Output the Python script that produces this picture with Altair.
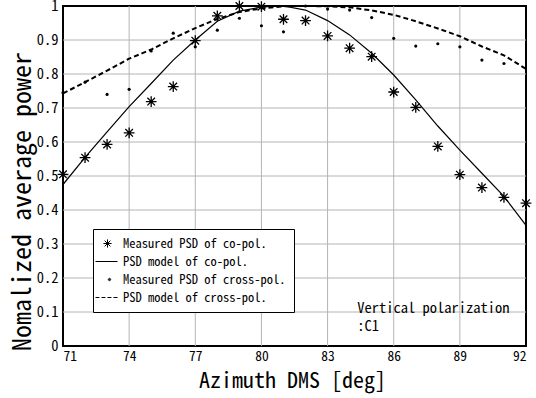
import altair as alt
import pandas as pd

# ---- data ----
azimuth = list(range(71, 93))
co_measured = [0.505, 0.554, 0.593, 0.627, 0.719, 0.763, 0.898, 0.971, 1.0, 0.998,
               0.961, 0.957, 0.912, 0.876, 0.851, 0.747, 0.702, 0.587, 0.504, 0.466,
               0.437, 0.42]
co_model = [0.475, 0.555, 0.63, 0.704, 0.772, 0.841, 0.9, 0.955, 0.985, 0.997,
            1.0, 0.988, 0.957, 0.915, 0.861, 0.797, 0.724, 0.647, 0.576, 0.508,
            0.44, 0.355]
cross_az = list(range(71, 92))
cross_measured = [0.745, 0.776, 0.740, 0.755, 0.868, 0.920, 0.880, 0.929, 0.964, 0.942,
                  0.924, 1.0, 0.991, 0.988, 0.966, 0.905, 0.882, 0.889, 0.880, 0.841,
                  0.831]
cross_model = [0.743, 0.776, 0.81, 0.845, 0.872, 0.905, 0.935, 0.962, 0.982, 0.993,
               0.999, 1.0, 0.999, 0.996, 0.987, 0.974, 0.955, 0.934, 0.911, 0.881,
               0.855, 0.815]
series_names = ["Measured PSD of co-pol.", "PSD model of co-pol.",
                "Measured PSD of cross-pol.", "PSD model of cross-pol."]
note_lines = ["Vertical polarization", ":C1"]
note_x = [84.35, 84.35]
note_y = [0.109, 0.056]
x_ticks = [71, 74, 77, 80, 83, 86, 89, 92]
y_ticks = [0, 0.1, 0.2, 0.3, 0.4, 0.5, 0.6, 0.7, 0.8, 0.9, 1.0]

FONT = "Noto Sans Mono CJK JP, Noto Sans CJK JP, Liberation Mono"

co_df = pd.DataFrame({"az": azimuth, "p": co_measured, "s": series_names[0]})
co_model_df = pd.DataFrame({"az": azimuth, "p": co_model})
cross_df = pd.DataFrame({"az": cross_az, "p": cross_measured})
cross_model_df = pd.DataFrame({"az": azimuth, "p": cross_model})
note_df = pd.DataFrame({"t": note_lines, "az": note_x, "p": note_y})
xgrid_df = pd.DataFrame({"az": x_ticks[1:-1]})
ygrid_df = pd.DataFrame({"p": y_ticks[1:-1]})

# symbol paths (legend + markers)
asterisk = "M-0.68,0L0.68,0M0,-0.68L0,0.68M-0.48,-0.48L0.48,0.48M-0.48,0.48L0.48,-0.48"
solid_sym = "M-2,0L1.67,0"
dot_sym = ("M0.53,0A0.2,0.2,0,1,1,0.13,0A0.2,0.2,0,1,1,0.53,0Z"
           "M0.41,0A0.08,0.08,0,1,1,0.25,0A0.08,0.08,0,1,1,0.41,0Z")
dash_sym = "M-2,0L-1.35,0M-1,0L-0.35,0M0,0L0.65,0M1,0L1.67,0"

xscale = alt.Scale(domain=[71, 92], nice=False)
yscale = alt.Scale(domain=[0, 1], nice=False)

xaxis = alt.Axis(values=x_ticks, title="Azimuth DMS [deg]", labelFontSize=13.5,
                 labelPadding=3, titleFontSize=22, titleFontWeight="normal",
                 titleX=229, titleY=34, titleAlign="center", titleBaseline="middle",
                 grid=False, ticks=False, domain=False, labelOverlap=False)
yaxis = alt.Axis(values=y_ticks, title="Nomalized average power",
                 labelExpr="datum.value == 0 ? '0' : (datum.value == 1 ? '1' : format(datum.value, '.1f'))",
                 labelFontSize=14.5, labelPadding=5, titleFontSize=26,
                 titleFontWeight="normal", titleX=-41, titleY=195, titleAlign="center",
                 titleBaseline="middle", titleAngle=-90,
                 grid=False, ticks=False, domain=False, labelOverlap=False)

X = alt.X("az:Q", scale=xscale, axis=xaxis)
Y = alt.Y("p:Q", scale=yscale, axis=yaxis)

xgrid = alt.Chart(xgrid_df).mark_rule(
    color="#b4b4b4", strokeWidth=1, opacity=1
).encode(x=X)
ygrid = alt.Chart(ygrid_df).mark_rule(
    color="#b4b4b4", strokeWidth=1, opacity=1
).encode(y=Y)

cross_line = alt.Chart(cross_model_df).mark_line(
    color="black", strokeWidth=2, strokeDash=[5, 3]
).encode(x=X, y=Y)

co_line = alt.Chart(co_model_df).mark_line(color="black", strokeWidth=1.2).encode(x=X, y=Y)

cross_pts = alt.Chart(cross_df).mark_circle(color="black", size=10, opacity=1).encode(x=X, y=Y)

co_pts = alt.Chart(co_df).mark_point(
    color="black", filled=False, strokeWidth=1.3, size=250, opacity=1
).encode(
    x=X, y=Y,
    shape=alt.Shape("s:N",
        scale=alt.Scale(domain=series_names,
                        range=[asterisk, solid_sym, dot_sym, dash_sym]),
        legend=alt.Legend(title=None, orient="none", legendX=30, legendY=223,
                          strokeColor="black", fillColor="white", padding=8,
                          labelFont=FONT, labelFontSize=12.5, labelColor="black",
                          labelOffset=9, rowPadding=5, symbolSize=144,
                          symbolStrokeColor="black", symbolStrokeWidth=1))
)

note = alt.Chart(note_df).mark_text(
    align="left", baseline="middle", font=FONT, fontSize=14.5, color="black"
).encode(x=X, y=Y, text="t:N")

chart = alt.layer(xgrid, ygrid, cross_line, co_line, cross_pts, co_pts, note).properties(
    width=463, height=340,
    autosize=alt.AutoSizeParams(type="none"),
    padding={"left": 63, "top": 6, "right": 10, "bottom": 52},
    background="white",
).configure_view(stroke="black", strokeWidth=2).configure_axis(
    labelFont=FONT, titleFont=FONT, labelColor="black", titleColor="black"
).configure_legend(labelLimit=400)

chart.save("out.html", embed_options={"renderer": "svg", "actions": False})
